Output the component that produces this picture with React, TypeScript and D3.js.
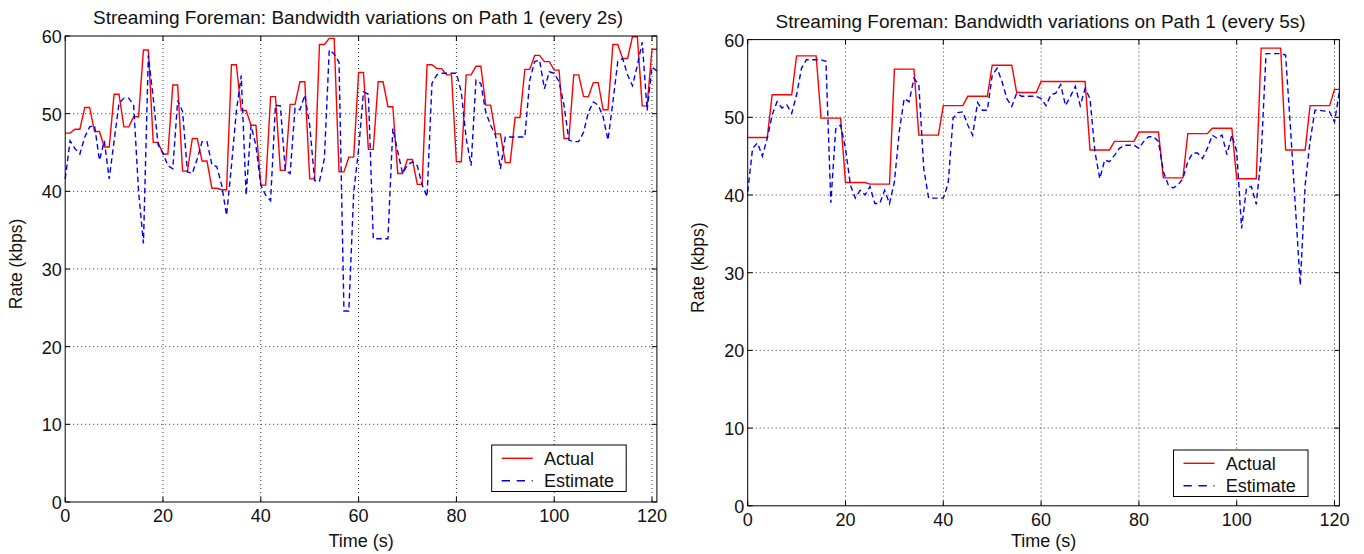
import React from 'react';
import * as d3 from 'd3';

const timeTicks = [0, 20, 40, 60, 80, 100, 120];
const rateTicks = [0, 10, 20, 30, 40, 50, 60];
const gridTimes = [20, 40, 60, 80, 100, 120];
const gridRates = [10, 20, 30, 40, 50];

// actual bandwidth, one value per second (held for 2s)
const leftActual = [
  47.5, 47.5, 48.0, 48.0, 50.8, 50.8, 47.7, 47.7, 45.7, 45.7, 52.5, 52.5, 48.3, 48.3, 49.6, 49.6, 58.2, 58.2, 46.3, 46.3,
  44.8, 44.8, 53.7, 53.7, 42.6, 42.6, 46.8, 46.8, 43.9, 43.9, 40.4, 40.4, 40.2, 40.2, 56.3, 56.3, 50.4, 50.4, 48.5, 48.5,
  40.8, 40.8, 52.2, 52.2, 42.7, 42.7, 51.2, 51.2, 54.1, 54.1, 41.6, 41.6, 58.9, 58.9, 59.7, 59.7, 42.5, 42.5, 44.4, 44.4,
  55.3, 55.3, 45.4, 45.4, 54.1, 54.1, 50.9, 50.9, 42.3, 42.3, 44.1, 44.1, 40.9, 40.9, 56.3, 56.3, 55.8, 55.8, 55.0, 55.0,
  43.8, 43.8, 55.0, 55.0, 56.1, 56.1, 51.1, 51.1, 47.4, 47.4, 43.7, 43.7, 49.5, 49.5, 55.7, 55.7, 57.5, 57.5, 56.7, 56.7,
  55.6, 55.6, 46.8, 46.8, 55.0, 55.0, 52.2, 52.2, 54.0, 54.0, 50.5, 50.5, 58.9, 58.9, 57.1, 57.1, 59.9, 59.9, 51.0, 51.0,
  58.3, 58.3,
];

const leftEstimate = [
  41.6, 46.5, 45.5, 44.8, 47.0, 48.3, 48.5, 44.0, 46.5, 41.6, 46.5, 51.3, 52.0, 52.0, 51.1, 40.0, 33.3, 57.5, 52.0, 46.0,
  44.9, 43.3, 42.9, 51.7, 50.3, 42.5, 42.3, 44.2, 46.4, 46.4, 43.4, 43.2, 40.8, 36.9, 43.3, 50.3, 54.9, 39.5, 48.5, 45.9,
  40.8, 39.5, 38.8, 51.1, 51.0, 42.7, 42.3, 50.7, 50.5, 52.4, 48.5, 41.4, 41.3, 44.2, 58.2, 57.7, 56.6, 24.6, 24.6, 39.9,
  45.4, 52.8, 52.5, 33.9, 33.9, 33.9, 33.9, 48.1, 45.1, 42.3, 43.4, 43.8, 43.3, 40.8, 39.3, 53.9, 55.0, 55.2, 55.2, 55.2,
  55.2, 52.8, 46.8, 43.3, 54.3, 53.9, 50.2, 48.5, 47.2, 42.9, 47.0, 47.0, 47.0, 47.0, 47.0, 54.3, 56.7, 56.9, 53.2, 55.4,
  55.2, 54.1, 51.1, 46.6, 46.4, 46.4, 47.6, 50.2, 51.5, 51.1, 49.6, 46.6, 51.5, 56.7, 57.1, 55.0, 53.6, 56.2, 59.2, 50.4,
  56.0, 55.5,
];

// actual bandwidth, one value per second (held for 5s)
const rightActual = [
  47.4, 47.4, 47.4, 47.4, 47.4, 52.9, 52.9, 52.9, 52.9, 52.9, 57.9, 57.9, 57.9, 57.9, 57.9, 49.9, 49.9, 49.9, 49.9, 49.9,
  41.6, 41.6, 41.6, 41.6, 41.6, 41.4, 41.4, 41.4, 41.4, 41.4, 56.2, 56.2, 56.2, 56.2, 56.2, 47.7, 47.7, 47.7, 47.7, 47.7,
  51.5, 51.5, 51.5, 51.5, 51.5, 52.7, 52.7, 52.7, 52.7, 52.7, 56.7, 56.7, 56.7, 56.7, 56.7, 53.2, 53.2, 53.2, 53.2, 53.2,
  54.6, 54.6, 54.6, 54.6, 54.6, 54.6, 54.6, 54.6, 54.6, 54.6, 45.8, 45.8, 45.8, 45.8, 45.8, 46.9, 46.9, 46.9, 46.9, 46.9,
  48.1, 48.1, 48.1, 48.1, 48.1, 42.2, 42.2, 42.2, 42.2, 42.2, 47.9, 47.9, 47.9, 47.9, 47.9, 48.6, 48.6, 48.6, 48.6, 48.6,
  42.1, 42.1, 42.1, 42.1, 42.1, 58.9, 58.9, 58.9, 58.9, 58.9, 45.8, 45.8, 45.8, 45.8, 45.8, 51.5, 51.5, 51.5, 51.5, 51.5,
  53.6, 53.6,
];

const rightEstimate = [
  40.4, 46.0, 46.7, 45.0, 47.3, 50.3, 52.0, 51.2, 51.6, 50.5, 52.9, 56.3, 57.4, 57.4, 57.4, 57.4, 57.2, 39.0, 48.5, 49.0,
  46.0, 41.3, 39.6, 40.6, 40.0, 41.1, 38.9, 38.9, 40.6, 38.9, 41.7, 48.2, 52.4, 52.0, 55.0, 54.2, 43.4, 39.6, 39.6, 39.6,
  39.6, 41.5, 49.9, 50.6, 50.7, 49.0, 47.7, 51.9, 50.9, 50.9, 55.4, 56.3, 54.6, 52.4, 51.4, 53.1, 52.7, 52.7, 52.7, 52.7,
  52.4, 51.5, 52.9, 53.1, 54.2, 51.5, 52.7, 54.0, 51.5, 53.7, 52.4, 45.6, 42.1, 44.5, 44.3, 45.1, 46.0, 46.4, 46.4, 46.4,
  46.0, 46.9, 47.5, 47.5, 46.9, 43.0, 41.3, 40.9, 41.3, 42.1, 44.3, 45.4, 45.4, 44.7, 46.0, 47.7, 47.3, 47.7, 45.2, 47.7,
  45.6, 35.7, 40.9, 41.1, 38.8, 45.0, 58.2, 58.2, 58.2, 58.2, 58.0, 48.6, 38.5, 28.4, 41.3, 46.9, 50.9, 50.9, 50.8, 50.7,
  49.4, 53.3,
];

const FONT = '"Liberation Sans", Arial, Helvetica, sans-serif';

interface PanelProps {
  title: string;
  actual: number[];
  estimate: number[];
  left: number;
  top: number;
  width: number;
  height: number;
  legend: { x: number; y: number };
}

const Panel: React.FC<PanelProps> = ({ title, actual, estimate, left, top, width, height, legend }) => {
  const x = d3.scaleLinear().domain([0, 121]).range([left, left + width]);
  const y = d3.scaleLinear().domain([0, 60]).range([top + height, top]);
  const line = d3.line<number>().x((_, i) => x(i)).y((d) => y(d));
  const bottom = top + height;
  const right = left + width;
  const tick = 5;
  const lw = 134.5;
  const lh = 46.5;

  return (
    <g fontFamily={FONT} fill="#111">
      {/* grid */}
      {gridTimes.map((t) => (
        <line key={'gx' + t} x1={x(t)} x2={x(t)} y1={top} y2={bottom}
          stroke="#333" strokeWidth={1} strokeDasharray="1 3" />
      ))}
      {gridRates.map((r) => (
        <line key={'gy' + r} x1={left} x2={right} y1={y(r)} y2={y(r)}
          stroke="#333" strokeWidth={1} strokeDasharray="1 3" />
      ))}

      <path d={line(actual) || ''} fill="none" stroke="#ff0000" strokeWidth={1.4} />
      <path d={line(estimate) || ''} fill="none" stroke="#0000ff" strokeWidth={1.4} strokeDasharray="5.5 3.5" />

      {/* box and inward ticks */}
      <rect x={left} y={top} width={width} height={height} fill="none" stroke="#000" strokeWidth={1} />
      {timeTicks.map((t) => (
        <g key={'tx' + t}>
          <line x1={x(t)} x2={x(t)} y1={bottom} y2={bottom - tick} stroke="#000" />
          <line x1={x(t)} x2={x(t)} y1={top} y2={top + tick} stroke="#000" />
          <text x={x(t)} y={bottom + 20} textAnchor="middle" fontSize={18}>{t}</text>
        </g>
      ))}
      {rateTicks.map((r) => (
        <g key={'ty' + r}>
          <line x1={left} x2={left + tick} y1={y(r)} y2={y(r)} stroke="#000" />
          <line x1={right} x2={right - tick} y1={y(r)} y2={y(r)} stroke="#000" />
          <text x={left - 3.5} y={y(r) + 7} textAnchor="end" fontSize={18}>{r}</text>
        </g>
      ))}

      <text x={(left + right) / 2 - 3} y={top - 11.7} textAnchor="middle" fontSize={19}>{title}</text>
      <text x={(left + right) / 2} y={Math.min(bottom + 46, 547)} textAnchor="middle" fontSize={18}>Time (s)</text>
      <text transform={`translate(${left - 43.5},${(top + bottom) / 2 - 5}) rotate(-90)`}
        textAnchor="middle" fontSize={17.5}>Rate (kbps)</text>

      {/* legend */}
      <rect x={legend.x} y={legend.y} width={lw} height={lh} fill="#fff" stroke="#000" strokeWidth={1} />
      <line x1={legend.x + 10} x2={legend.x + 41} y1={legend.y + 13.3} y2={legend.y + 13.3}
        stroke="#ff0000" strokeWidth={1.4} />
      <line x1={legend.x + 10} x2={legend.x + 41} y1={legend.y + 35.7} y2={legend.y + 35.7}
        stroke="#0000ff" strokeWidth={1.4} strokeDasharray="8.3 6.7" />
      <text x={legend.x + 52.3} y={legend.y + 20} fontSize={18}>Actual</text>
      <text x={legend.x + 52.3} y={legend.y + 41.7} fontSize={18}>Estimate</text>
    </g>
  );
};

export default function App() {
  return (
    <div style={{ position: 'absolute', left: 0, top: 0 }}>
      <svg width={1364} height={554} style={{ display: 'block', background: '#fff' }}>
        <Panel
          title="Streaming Foreman: Bandwidth variations on Path 1 (every 2s)"
          actual={leftActual}
          estimate={leftEstimate}
          left={65.2}
          top={36}
          width={591.7}
          height={466}
          legend={{ x: 491.7, y: 445 }}
        />
        <Panel
          title="Streaming Foreman: Bandwidth variations on Path 1 (every 5s)"
          actual={rightActual}
          estimate={rightEstimate}
          left={747.7}
          top={39.6}
          width={591.7}
          height={466.2}
          legend={{ x: 1173.5, y: 450 }}
        />
      </svg>
    </div>
  );
}
